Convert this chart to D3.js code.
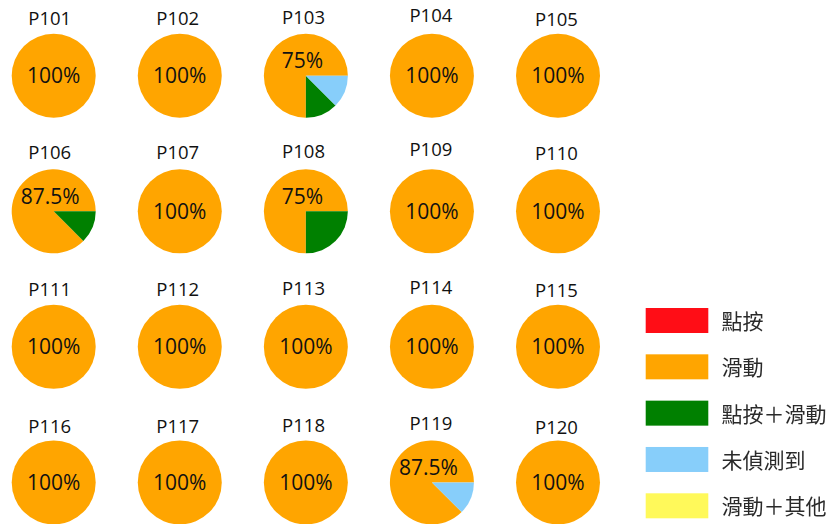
<!DOCTYPE html>
<html>
<head>
<meta charset="utf-8">
<script src="https://cdn.jsdelivr.net/npm/d3@7"></script>
<style>
  html, body { margin: 0; padding: 0; background: #fff; }
  svg { display: block; }
</style>
</head>
<body>
<svg id="chart" width="833" height="524"></svg>
<script>
// Participants, laid out in a 5 x 4 grid (row-major)
const participants = [
  "P101", "P102", "P103", "P104", "P105",
  "P106", "P107", "P108", "P109", "P110",
  "P111", "P112", "P113", "P114", "P115",
  "P116", "P117", "P118", "P119", "P120"
];

// Interaction categories (legend order) and their colours
const categories = ["點按", "滑動", "點按＋滑動", "未偵測到", "滑動＋其他"];
const categoryColors = ["#ff0a18", "#ffa500", "#008000", "#87cefa", "#fff95a"];

// Trial counts per participant (8 trials each)
const tapCounts        = [0,0,0,0,0, 0,0,0,0,0, 0,0,0,0,0, 0,0,0,0,0];
const swipeCounts      = [8,8,6,8,8, 7,8,6,8,8, 8,8,8,8,8, 8,8,8,7,8];
const tapSwipeCounts   = [0,0,1,0,0, 1,0,2,0,0, 0,0,0,0,0, 0,0,0,0,0];
const undetectedCounts = [0,0,1,0,0, 0,0,0,0,0, 0,0,0,0,0, 0,0,0,1,0];
const swipeOtherCounts = [0,0,0,0,0, 0,0,0,0,0, 0,0,0,0,0, 0,0,0,0,0];

const seriesByCategory = [tapCounts, swipeCounts, tapSwipeCounts, undetectedCounts, swipeOtherCounts];

const svg = d3.select("#chart");
const nCols = 5, nRows = 4;
const radius = 42;

const xCol = d3.scalePoint().domain(d3.range(nCols)).range([53.7, 558]);
const yRow = d3.scalePoint().domain(d3.range(nRows)).range([75.8, 482.4]);
const color = d3.scaleOrdinal().domain(categories).range(categoryColors);

// small per-column / per-row nudges for the participant titles
const titleDx = [-4, -2, -2.3, -1, -1.5];
const titleDy = [0.5, 0.5, -1, -2.2, 1.5];
const rowDy = [-0.3, -1.7, 0, 1.2];

// slices run counter-clockwise starting from 3 o'clock
const pie = d3.pie()
  .sort(null)
  .value(d => d.value)
  .startAngle(Math.PI / 2)
  .endAngle(Math.PI / 2 - 2 * Math.PI);

const arc = d3.arc().innerRadius(0).outerRadius(radius);

const fmtPct = v => (Math.round(v * 1000) / 10) + "%";

participants.forEach((name, i) => {
  const col = i % nCols, row = Math.floor(i / nCols);
  const cx = xCol(col), cy = yRow(row);
  const slices = categories.map((c, k) => ({ category: c, value: seriesByCategory[k][i] }));
  const total = d3.sum(slices, d => d.value);
  const swipeShare = swipeCounts[i] / total;

  const g = svg.append("g").attr("transform", `translate(${cx},${cy})`);

  g.selectAll("path")
    .data(pie(slices).filter(d => d.data.value > 0))
    .join("path")
    .attr("d", arc)
    .attr("fill", d => color(d.data.category));

  // swipe share label
  const full = swipeShare === 1;
  g.append("text")
    .attr("x", full ? 0 : -3.5)
    .attr("y", full ? 0 : -15)
    .attr("dy", "0.36em")
    .attr("text-anchor", "middle")
    .attr("font-family", "'Open Sans', sans-serif")
    .attr("font-size", 21)
    .attr("fill", "#111")
    .text(fmtPct(swipeShare));

  // participant title
  svg.append("text")
    .attr("x", cx + titleDx[col])
    .attr("y", cy - 51 + titleDy[col] + rowDy[row])
    .attr("text-anchor", "middle")
    .attr("font-family", "'Open Sans', sans-serif")
    .attr("font-size", 18.5)
    .attr("fill", "#111")
    .text(name);
});

// Legend
const defs = svg.append("defs");
defs.append("filter").attr("id", "soft")
  .append("feGaussianBlur").attr("stdDeviation", 0.45);

const legendY = d3.scalePoint().domain(categories).range([308, 493.3]);
const legend = svg.append("g").attr("filter", "url(#soft)");

legend.selectAll("rect")
  .data(categories)
  .join("rect")
  .attr("x", 645.7)
  .attr("y", d => legendY(d))
  .attr("width", 62.6)
  .attr("height", 25)
  .attr("fill", d => color(d));

legend.selectAll("text")
  .data(categories)
  .join("text")
  .attr("x", 721.5)
  .attr("y", d => legendY(d) + 13.5)
  .attr("dy", "0.36em")
  .attr("font-family", "'Noto Sans CJK TC', sans-serif")
  .attr("font-size", 21)
  .attr("fill", "#2a2a2a")
  .text(d => d);
</script>
</body>
</html>
